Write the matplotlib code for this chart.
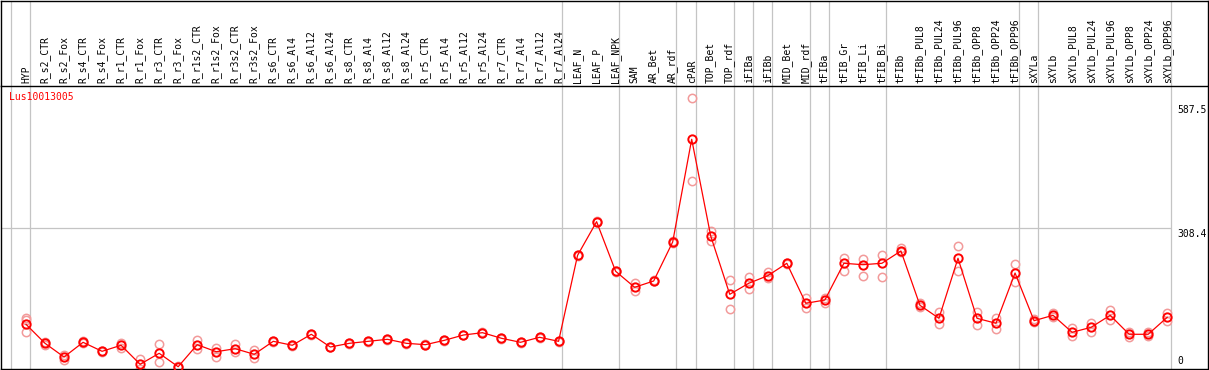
import numpy as np
from matplotlib import pyplot as plt

muestras = ["HYP",
            "R_s2_CTR", "R_s2_Fox", "R_s4_CTR", "R_s4_Fox", "R_r1_CTR", "R_r1_Fox",
            "R_r3_CTR", "R_r3_Fox", "R_r1s2_CTR", "R_r1s2_Fox", "R_r3s2_CTR", "R_r3s2_Fox",
            "R_s6_CTR", "R_s6_Al4", "R_s6_Al12", "R_s6_Al24",
            "R_s8_CTR", "R_s8_Al4", "R_s8_Al12", "R_s8_Al24",
            "R_r5_CTR", "R_r5_Al4", "R_r5_Al12", "R_r5_Al24",
            "R_r7_CTR", "R_r7_Al4", "R_r7_Al12", "R_r7_Al24",
            "LEAF_N", "LEAF_P", "LEAF_NPK", "SAM", "AR_Bet", "AR_rdf", "cPAR",
            "TOP_Bet", "TOP_rdf", "iFIBa", "iFIBb", "MID_Bet", "MID_rdf",
            "tFIBa", "tFIB_Gr", "tFIB_Li", "tFIB_Bi",
            "tFIBb", "tFIBb_PUL8", "tFIBb_PUL24", "tFIBb_PUL96",
            "tFIBb_OPP8", "tFIBb_OPP24", "tFIBb_OPP96",
            "sXYLa", "sXYLb", "sXYLb_PUL8", "sXYLb_PUL24", "sXYLb_PUL96",
            "sXYLb_OPP8", "sXYLb_OPP24", "sXYLb_OPP96"]

# last sample of each group (-1 = border before the first one)
fin_grupo = [-1, 0, 28, 31, 34, 35, 37, 38, 39, 41, 42, 45, 52, 53, 60]

media = [98.0, 56.3, 26.3, 58.5, 38.8, 52.0, 10.3, 34.4, 5.0, 53.3,
         37.9, 44.5, 32.2, 60.7, 52.0, 76.1, 48.2, 56.3, 60.7, 65.1,
         56.3, 53.3, 62.9, 74.5, 79.6, 67.3, 58.5, 69.5, 60.7, 249.2,
         322.9, 214.2, 179.1, 192.9, 278.4, 503.5, 291.5, 163.7, 187.9, 204.5,
         231.7, 144.0, 151.2, 231.7, 228.6, 231.7, 258.7, 139.6, 111.1, 242.7,
         111.1, 100.2, 210.4, 105.9, 117.7, 80.4, 91.4, 117.7, 76.1, 76.1,
         113.3]

rep1 = [112.4, 59.8, 30.7, 61.4, 39.5, 57.7, 21.3, 54.8, 6.5, 63.6,
        46.7, 55.5, 41.6, 61.5, 53.0, 77.0, 49.0, 57.0, 61.5, 66.0,
        57.0, 54.0, 63.5, 75.5, 80.5, 68.0, 59.5, 70.0, 61.5, 250.0,
        324.0, 215.0, 187.9, 194.0, 279.5, 593.4, 302.5, 194.4, 201.0, 213.3,
        233.0, 155.0, 155.0, 244.0, 240.5, 249.9, 264.6, 145.3, 125.6, 269.6,
        124.3, 112.4, 230.2, 109.6, 123.4, 90.5, 100.2, 129.3, 81.1, 80.4,
        123.4]

rep2 = [80.4, 53.3, 19.7, 57.0, 38.0, 46.0, 0.7, 16.0, 3.5, 43.2,
        26.3, 37.3, 24.1, 60.0, 51.0, 75.0, 47.5, 55.5, 60.0, 64.0,
        55.5, 52.5, 62.0, 73.5, 78.5, 66.5, 57.5, 69.0, 60.0, 248.5,
        321.5, 213.0, 171.0, 192.0, 277.0, 412.1, 280.6, 130.9, 174.7, 198.8,
        230.5, 133.1, 145.3, 215.5, 203.2, 201.0, 256.5, 135.9, 98.6, 215.5,
        97.1, 87.0, 191.4, 103.0, 114.0, 71.7, 81.8, 106.8, 70.8, 71.7,
        105.9]

rep3 = [107.4] + [np.nan] * 60

x = np.arange(len(muestras))

fig = plt.figure(figsize=(12.09, 3.70), dpi=100)
W, H = 1209.0, 370.0
xlim = ((1 - 26) / 19.02, (1208 - 26) / 19.02)

# header with the sample names
cab = fig.add_axes([1 / W, 1 - 86 / H, 1207 / W, 85 / H])
cab.set_xlim(xlim)
cab.set_ylim(0, 1)
cab.set_xticks([])
cab.set_yticks([])
cab.spines["bottom"].set_visible(False)
for s in ["top", "left", "right"]:
    cab.spines[s].set_linewidth(1.0)

ax = fig.add_axes([1 / W, 1 - 369 / H, 1207 / W, 283 / H])
ax.set_xlim(xlim)
ax.set_ylim(0, 620.3)
ax.set_xticks([])
ax.set_yticks([])
for s in ["top", "bottom", "left", "right"]:
    ax.spines[s].set_linewidth(1.0)

for f in fin_grupo:
    cab.axvline(f + 0.2, color="#c4c4c4", lw=0.9, zorder=0)
    ax.axvline(f + 0.2, color="#c4c4c4", lw=0.9, zorder=0)

ax.hlines(308.4, xlim[0], 60.2, color="#c4c4c4", lw=0.9, zorder=0)

fuente = "DejaVu Sans Mono"
for i, nombre in enumerate(muestras):
    cab.text(i, 0.035, nombre, rotation=90, ha="center", va="bottom",
             fontsize=7, family=fuente)

ax.text(60.55, 578.5, "587.5", fontsize=7, family=fuente, va="top", ha="left")
ax.text(60.55, 307.0, "308.4", fontsize=7, family=fuente, va="top", ha="left")
ax.text(60.55, 6.0, "0", fontsize=7, family=fuente, va="bottom", ha="left")

ax.text(8 / 1207, 1 - 5.5 / 283, "Lus10013005", color="red", fontsize=7,
        family=fuente, va="top", ha="left", transform=ax.transAxes)

for rep in [rep1, rep2, rep3]:
    ax.plot(x, rep, "o", ms=6, mfc="none", mec="#f29a9a", mew=1.1,
            zorder=2, clip_on=False)

ax.plot(x, media, "-", color="red", lw=0.9, zorder=3)
ax.plot(x, media, "o", ms=6, mfc="none", mec="red", mew=1.4, zorder=4,
        clip_on=False)

plt.savefig("out.png", dpi=100)
